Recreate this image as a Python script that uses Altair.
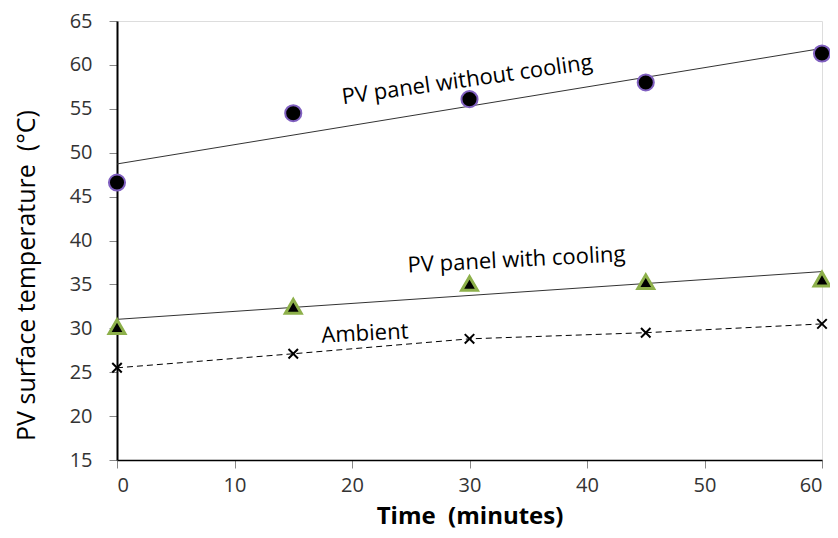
import altair as alt
import pandas as pd

time_min = [0, 15, 30, 45, 60]
without_cooling = [46.6, 54.5, 56.1, 58.0, 61.3]
with_cooling = [30.2, 32.5, 35.1, 35.3, 35.6]
ambient = [25.5, 27.1, 28.8, 29.5, 30.5]

label_text = ["PV panel without cooling", "PV panel with cooling", "Ambient"]
label_x = [29.8, 34.0, 21.1]
label_y = [58.3, 37.8, 29.4]
label_angle = [352, 357, 357]

FONT = "Open Sans"
NBSP = "\u00a0"

df = pd.DataFrame({
    "t": time_min * 3,
    "v": without_cooling + with_cooling + ambient,
    "s": ["without"] * 5 + ["with"] * 5 + ["ambient"] * 5,
})
lab = pd.DataFrame({"t": label_x, "v": label_y, "text": label_text, "angle": label_angle})

xs = alt.Scale(domain=[0, 60], nice=False)
ys = alt.Scale(domain=[15, 65], nice=False)

X = alt.X("t:Q", scale=xs, axis=alt.Axis(
    title="Time" + NBSP + " (minutes)", values=[0, 10, 20, 30, 40, 50, 60], grid=False,
    domainColor="black", domainWidth=1.5, tickColor="#888888", tickSize=8,
    labelFontSize=20, labelColor="#333333", labelFont=FONT, labelPadding=7,
    titleFont=FONT, titleFontSize=24, titleFontWeight="bold", titleColor="black", titlePadding=9))
Y = alt.Y("v:Q", scale=ys, axis=alt.Axis(
    title="PV surface temperature" + NBSP + " (°C)", values=list(range(15, 66, 5)), grid=False,
    domainColor="black", domainWidth=2, tickColor="#888888", tickSize=8,
    labelFontSize=20, labelColor="#333333", labelFont=FONT, labelPadding=17,
    titleFont=FONT, titleFontSize=25, titleFontWeight=500, titleColor="black",
    titleX=-91, titleY=254, titleBaseline="middle", titleAlign="center", titleAngle=270))

base = alt.Chart(df)

trend_wo = base.transform_filter(alt.datum.s == "without").transform_regression("t", "v", extent=[0, 60]).mark_line(
    color="#333333", strokeWidth=1).encode(x=X, y=Y)
trend_w = base.transform_filter(alt.datum.s == "with").transform_regression("t", "v", extent=[0, 60]).mark_line(
    color="#333333", strokeWidth=1).encode(x=X, y=Y)
amb_line = base.transform_filter(alt.datum.s == "ambient").mark_line(
    color="black", strokeWidth=1, strokeDash=[6, 4]).encode(x=X, y=Y)

pts_wo = base.transform_filter(alt.datum.s == "without").mark_point(
    shape="circle", filled=True, fill="black", stroke="#8060c0", strokeWidth=2, size=260, opacity=1).encode(x=X, y=Y)
pts_w = base.transform_filter(alt.datum.s == "with").mark_point(
    shape="triangle-up", filled=True, fill="black", stroke="#8db04a", strokeWidth=3, size=250, opacity=1).encode(x=X, y=Y)
pts_a = base.transform_filter(alt.datum.s == "ambient").mark_point(
    shape="M-1,-1L1,1M-1,1L1,-1", filled=False, stroke="black", strokeWidth=2, size=90, opacity=1).encode(x=X, y=Y)

labels = alt.Chart(lab).mark_text(font=FONT, fontSize=22, color="black").encode(
    x=alt.X("t:Q", scale=xs), y=alt.Y("v:Q", scale=ys), text="text:N", angle=alt.Angle("angle:Q", scale=None))

chart = alt.layer(trend_wo, trend_w, amb_line, pts_wo, pts_w, pts_a, labels).properties(
    width=705, height=439,
    autosize=alt.AutoSizeParams(type="none"),
    padding={"left": 109, "top": 13, "right": 8, "bottom": 70},
).configure_view(stroke="black", strokeWidth=1.5).configure(background="white")

chart.save("out.html", embed_options={"renderer": "svg", "actions": False})
